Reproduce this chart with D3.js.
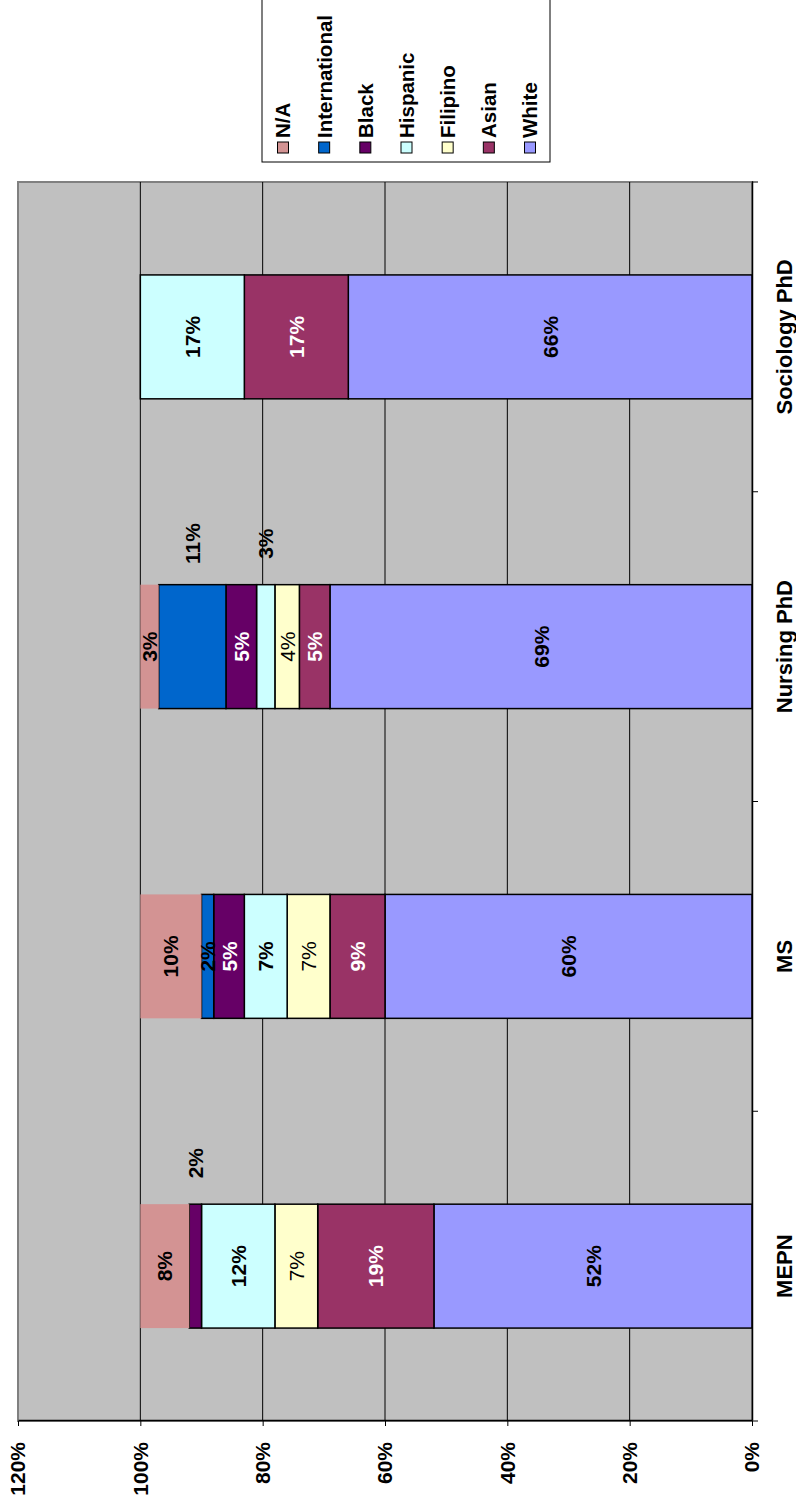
<!DOCTYPE html>
<html>
<head>
<meta charset="utf-8">
<script src="https://cdn.jsdelivr.net/npm/d3@7"></script>
<style>
  html, body { margin: 0; padding: 0; background: #fff; }
  svg { display: block; }
  text { font-family: "Liberation Sans", Arial, sans-serif; }
</style>
</head>
<body>
<div id="chart"></div>
<script>
// ---- Data ----
const categories = ["MEPN", "MS", "Nursing PhD", "Sociology PhD"];
const seriesNames = ["White", "Asian", "Filipino", "Hispanic", "Black", "International", "N/A"];
const white = [52, 60, 69, 66];
const asian = [19, 9, 5, 17];
const filipino = [7, 7, 4, 0];
const hispanic = [12, 7, 3, 17];
const black = [2, 5, 5, 0];
const international = [0, 2, 11, 0];
const na = [8, 10, 3, 0];
const valueTicks = [0, 20, 40, 60, 80, 100, 120];
// data labels that sit beside the bar instead of inside
const outsideLabels = [["MEPN", "Black"], ["Nursing PhD", "International"], ["Nursing PhD", "Hispanic"]];

const seriesValues = [white, asian, filipino, hispanic, black, international, na];
const colors = {
  "White": "#9999FF", "Asian": "#993366", "Filipino": "#FFFFCC", "Hispanic": "#CCFFFF",
  "Black": "#660066", "International": "#0066CC", "N/A": "#D39393"
};
const labelColor = {
  "White": "#000", "Asian": "#fff", "Filipino": "#000", "Hispanic": "#000",
  "Black": "#fff", "International": "#000", "N/A": "#000"
};
const labelWeight = {
  "White": "bold", "Asian": "bold", "Filipino": "normal", "Hispanic": "bold",
  "Black": "bold", "International": "bold", "N/A": "bold"
};

// ---- Build ----
const W = 796, H = 1501;
const svg = d3.select("#chart").append("svg").attr("width", W).attr("height", H);
svg.append("rect").attr("width", W).attr("height", H).attr("fill", "#fff");

// Chart is drawn as an upright column chart and rotated -90deg onto the page.
const g = svg.append("g").attr("transform", `translate(0,${H}) rotate(-90)`);

const plotL = 80, plotR = 1319, plotT = 18, plotB = 752;
const x = d3.scaleBand().domain(categories).range([plotL, plotR]).paddingInner(0.6).paddingOuter(0.3);
const y = d3.scaleLinear().domain([0, 120]).range([plotB, plotT]);

// plot area
g.append("rect").attr("x", plotL).attr("y", plotT).attr("width", plotR - plotL).attr("height", plotB - plotT)
  .attr("fill", "#C0C0C0").attr("stroke", "#808080").attr("stroke-width", 2);

// gridlines
g.append("g").selectAll("line").data(valueTicks.filter(v => v > 0 && v < 120)).join("line")
  .attr("x1", plotL).attr("x2", plotR).attr("y1", d => y(d)).attr("y2", d => y(d))
  .attr("stroke", "#000").attr("stroke-width", 1);

// stacked data
const rows = categories.map((c, i) => {
  const r = { category: c };
  seriesNames.forEach((s, j) => r[s] = seriesValues[j][i]);
  return r;
});
const stack = d3.stack().keys(seriesNames)(rows);

const segs = [];
stack.forEach(layer => {
  layer.forEach(d => {
    segs.push({ series: layer.key, category: d.data.category, y0: d[0], y1: d[1], v: d.data[layer.key] });
  });
});

g.append("g").selectAll("rect").data(segs.filter(d => d.v > 0)).join("rect")
  .attr("x", d => x(d.category)).attr("width", x.bandwidth())
  .attr("y", d => y(d.y1)).attr("height", d => y(d.y0) - y(d.y1))
  .attr("fill", d => colors[d.series])
  .attr("stroke", d => d.series === "N/A" ? "none" : "#000")
  .attr("stroke-width", 1.5);

// data labels
const isOutside = d => outsideLabels.some(o => o[0] === d.category && o[1] === d.series);
const outsideOffset = 103;
g.append("g").selectAll("text").data(segs.filter(d => d.v > 0)).join("text")
  .attr("x", d => x(d.category) + x.bandwidth() / 2 + (isOutside(d) ? outsideOffset : 0))
  .attr("y", d => (y(d.y0) + y(d.y1)) / 2)
  .attr("dy", "0.36em")
  .attr("text-anchor", "middle")
  .attr("font-size", 21)
  .attr("font-weight", d => isOutside(d) ? "bold" : labelWeight[d.series])
  .attr("fill", d => isOutside(d) ? "#000" : labelColor[d.series])
  .text(d => d.v + "%");

// value axis
const yAxis = g.append("g").attr("transform", `translate(${plotL},0)`)
  .call(d3.axisLeft(y).tickValues(valueTicks).tickSize(5).tickSizeOuter(0).tickPadding(16).tickFormat(d => d + "%"));
yAxis.select(".domain").attr("stroke", "#000").attr("stroke-width", 1.5);
yAxis.selectAll(".tick line").attr("stroke", "#000");
yAxis.selectAll("text").attr("font-size", 21).attr("font-weight", "bold").attr("fill", "#000")
  .attr("font-family", "'Liberation Sans', Arial, sans-serif");

// category axis
const xAxis = g.append("g").attr("transform", `translate(0,${plotB})`)
  .call(d3.axisBottom(x).tickSize(0).tickSizeOuter(0).tickPadding(24));
xAxis.select(".domain").attr("stroke", "#000").attr("stroke-width", 1.5);
xAxis.selectAll("text").attr("font-size", 22).attr("font-weight", "bold").attr("fill", "#000")
  .attr("font-family", "'Liberation Sans', Arial, sans-serif");
const bounds = categories.map(c => x(c) - x.step() * x.paddingOuter()).concat([plotR]);
g.append("g").selectAll("line").data(bounds).join("line")
  .attr("x1", d => d).attr("x2", d => d).attr("y1", plotB).attr("y2", plotB + 6)
  .attr("stroke", "#000").attr("stroke-width", 1);

// legend
const legendOrder = seriesNames.slice().reverse();
const lg = g.append("g");
lg.append("rect").attr("x", 1339).attr("y", 262).attr("width", 180).attr("height", 288)
  .attr("fill", "#fff").attr("stroke", "#000").attr("stroke-width", 1);
const ly = d3.scalePoint().domain(legendOrder).range([283, 530]);
const items = lg.selectAll("g.item").data(legendOrder).join("g").attr("class", "item")
  .attr("transform", d => `translate(0,${ly(d)})`);
items.append("rect").attr("x", 1348).attr("y", -5.5).attr("width", 11).attr("height", 11)
  .attr("fill", d => colors[d]).attr("stroke", "#000").attr("stroke-width", 1);
items.append("text").attr("x", 1363).attr("dy", "0.36em").attr("font-size", 20.5).attr("font-weight", "bold")
  .attr("fill", "#000").text(d => d);
</script>
</body>
</html>
